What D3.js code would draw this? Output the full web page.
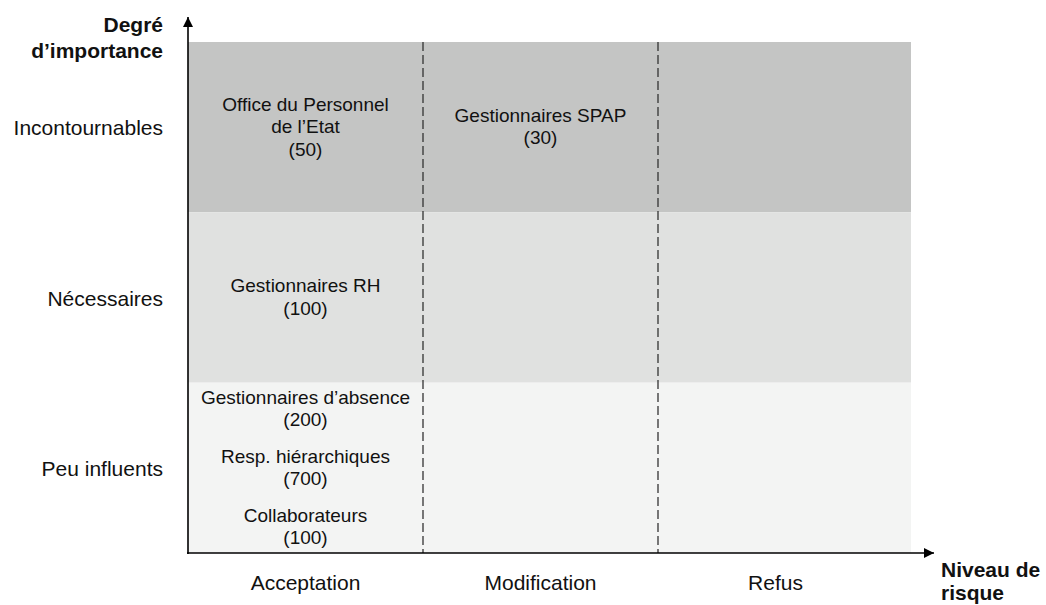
<!DOCTYPE html>
<meta charset="utf-8">
<style>
body { margin: 0; background: #fff; }
text { font-family: "Liberation Sans", Arial, sans-serif; fill: #111; }
</style>
<body>
<div id="chart"></div>
<script src="https://cdn.jsdelivr.net/npm/d3@7"></script>
<script>

// importance levels (rows) and risk levels (columns)
var rows = ["Incontournables", "Nécessaires", "Peu influents"];
var cols = ["Acceptation", "Modification", "Refus"];
var rowFills = ["#c4c5c4", "#e0e1e0", "#f3f4f3"];

// actors placed in the matrix, with their headcount
var actors = [
  { row: "Incontournables", col: "Acceptation", name: ["Office du Personnel", "de l\u2019Etat"], count: 50, slot: 0 },
  { row: "Incontournables", col: "Modification", name: ["Gestionnaires SPAP"], count: 30, slot: 0 },
  { row: "Nécessaires", col: "Acceptation", name: ["Gestionnaires RH"], count: 100, slot: 0 },
  { row: "Peu influents", col: "Acceptation", name: ["Gestionnaires d\u2019absence"], count: 200, slot: 0 },
  { row: "Peu influents", col: "Acceptation", name: ["Resp. hiérarchiques"], count: 700, slot: 1 },
  { row: "Peu influents", col: "Acceptation", name: ["Collaborateurs"], count: 100, slot: 2 }
];

var yTitle = ["Degré", "d\u2019importance"];
var xTitle = ["Niveau de", "risque"];

var width = 1046, height = 605;
var plotLeft = 188, plotTop = 42, plotBottom = 553, plotRight = 911, colEnd = 893;

var svg = d3.select("#chart").append("svg")
    .attr("width", width)
    .attr("height", height);

var x = d3.scaleBand().domain(cols).range([plotLeft, colEnd]);
var y = d3.scaleBand().domain(rows).range([plotTop, plotBottom]);

// background bands
svg.selectAll(".band")
    .data(rows)
  .enter().append("rect")
    .attr("class", "band")
    .attr("x", plotLeft)
    .attr("y", function(d) { return y(d); })
    .attr("width", plotRight - plotLeft)
    .attr("height", y.bandwidth())
    .style("fill", function(d, i) { return rowFills[i]; });

// dashed separators between columns
svg.selectAll(".sep")
    .data(cols.slice(1))
  .enter().append("line")
    .attr("class", "sep")
    .attr("x1", function(d) { return x(d); })
    .attr("x2", function(d) { return x(d); })
    .attr("y1", plotTop)
    .attr("y2", plotBottom)
    .style("stroke", "#333")
    .style("stroke-width", 1.3)
    .style("stroke-dasharray", "9,4");

// axes with arrows
var defs = svg.append("defs");
defs.append("marker")
    .attr("id", "arrow")
    .attr("viewBox", "0 0 10 10")
    .attr("refX", 10).attr("refY", 5)
    .attr("markerWidth", 10).attr("markerHeight", 10)
    .attr("markerUnits", "userSpaceOnUse")
    .attr("orient", "auto")
  .append("path")
    .attr("d", "M0,0L10,5L0,10Z")
    .style("fill", "#000");

svg.append("line")
    .attr("x1", plotLeft).attr("y1", plotBottom + 1)
    .attr("x2", plotLeft).attr("y2", 17)
    .style("stroke", "#000").style("stroke-width", 1.6)
    .attr("marker-end", "url(#arrow)");

svg.append("line")
    .attr("x1", plotLeft - 1).attr("y1", plotBottom)
    .attr("x2", 934).attr("y2", plotBottom)
    .style("stroke", "#000").style("stroke-width", 1.6)
    .attr("marker-end", "url(#arrow)");

// row labels
svg.selectAll(".rowlab")
    .data(rows)
  .enter().append("text")
    .attr("class", "rowlab")
    .attr("x", plotLeft - 25)
    .attr("y", function(d) { return y(d) + y.bandwidth() / 2 + 8; })
    .attr("text-anchor", "end")
    .style("font-size", "21px")
    .text(function(d) { return d; });

// column labels
svg.selectAll(".collab")
    .data(cols)
  .enter().append("text")
    .attr("class", "collab")
    .attr("x", function(d) { return x(d) + x.bandwidth() / 2; })
    .attr("y", 590)
    .attr("text-anchor", "middle")
    .style("font-size", "21px")
    .text(function(d) { return d; });

// axis titles
svg.append("text")
    .attr("x", plotLeft - 25).attr("y", 32)
    .attr("text-anchor", "end")
    .style("font-size", "21px").style("font-weight", "bold")
    .selectAll("tspan")
    .data(yTitle)
  .enter().append("tspan")
    .attr("x", plotLeft - 25)
    .attr("dy", function(d, i) { return i ? 26 : 0; })
    .text(function(d) { return d; });

svg.append("text")
    .attr("x", 941).attr("y", 577)
    .style("font-size", "21px").style("font-weight", "bold")
    .selectAll("tspan")
    .data(xTitle)
  .enter().append("tspan")
    .attr("x", 941)
    .attr("dy", function(d, i) { return i ? 23 : 0; })
    .text(function(d) { return d; });

// actor labels inside cells
var lineH = 22.5, slotH = 59;
var cellGroups = d3.group(actors, function(d) { return d.row + "|" + d.col; });

actors.forEach(function(a) {
  var n = cellGroups.get(a.row + "|" + a.col).length;
  var lines = a.name.concat(["(" + a.count + ")"]);
  var blockH = (n - 1) * slotH + (lines.length - 1) * lineH;
  var cy = y(a.row) + y.bandwidth() / 2;
  var first = cy - blockH / 2 + a.slot * slotH + 6;
  var t = svg.append("text")
      .attr("text-anchor", "middle")
      .style("font-size", "19px");
  t.selectAll("tspan")
      .data(lines)
    .enter().append("tspan")
      .attr("x", x(a.col) + x.bandwidth() / 2)
      .attr("y", function(d, i) { return first + i * lineH; })
      .text(function(d) { return d; });
});

</script>
</body>
